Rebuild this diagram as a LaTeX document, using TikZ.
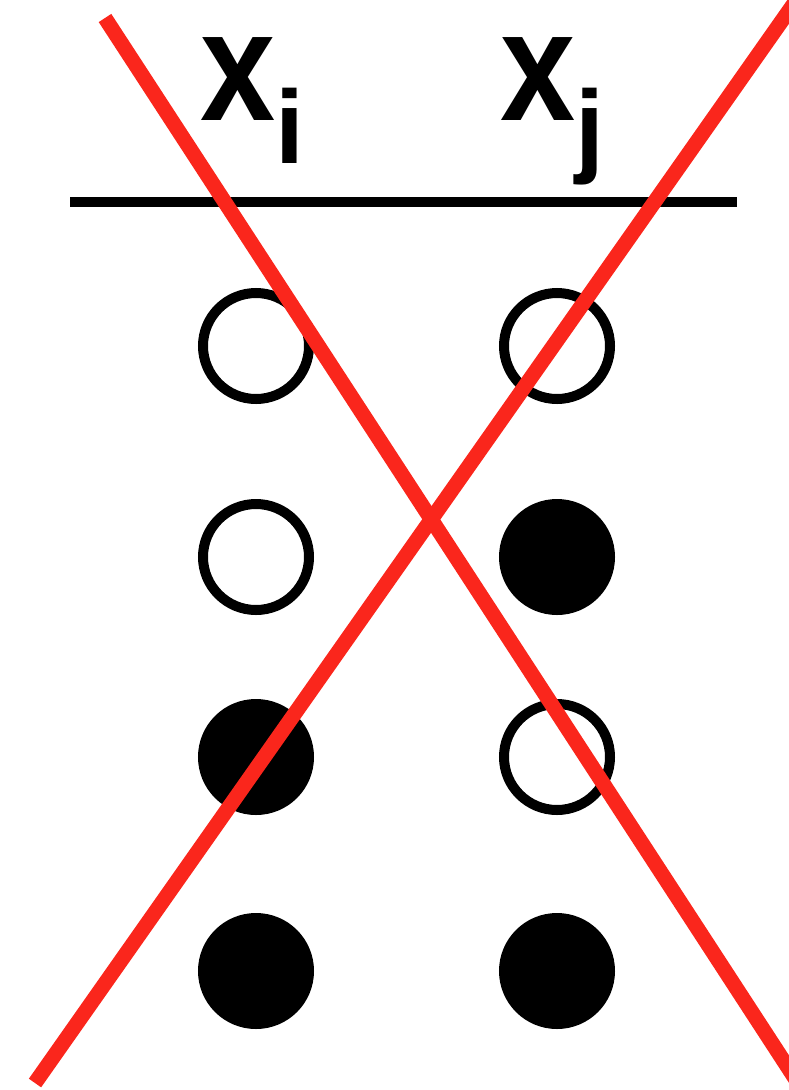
\documentclass[tikz,border=0pt]{standalone}
\usepackage{fontspec}
\setmainfont{Liberation Sans}
\definecolor{crossred}{RGB}{250,38,28}
\tikzset{
  bit/.style={draw=black,circle,line width=10pt,minimum size=106pt,inner sep=0pt},
  zero/.style={bit,fill=white},
  one/.style={bit,fill=black},
  varlabel/.style={anchor=base west,inner sep=0pt,text height=84pt,text depth=62pt,
    font=\fontsize{157}{157}\selectfont\bfseries},
  headrule/.style={draw,line width=10pt},
  strike/.style={draw=crossred,line width=15pt}
}
\newcommand{\subvar}[1]{\raisebox{-43pt}{\fontsize{104}{104}\selectfont #1}}

\begin{document}
\begin{tikzpicture}[x=1pt,y=-1pt]
  \useasboundingbox (0,0) rectangle (789,1090);
  \clip (0,0) rectangle (789,1090);

  % column heads
  \node[varlabel] (xi) at (200,120) {\scalebox{0.86}[1]{x}\smash{\subvar{i}}};
  \node[varlabel] (xj) at (500,120) {\scalebox{0.86}[1]{x}\smash{\subvar{j}}};
  \coordinate (ruleL) at (70,202);
  \coordinate (ruleR) at (737,202);
  \draw[headrule] (ruleL) -- (ruleR);

  % value pairs
  \node[zero] (i1) at (256,346) {};
  \node[zero] (j1) at (557,346) {};
  \node[zero] (i2) at (256,557) {};
  \node[one]  (j2) at (557,557) {};
  \node[one]  (i3) at (256,757) {};
  \node[zero] (j3) at (557,757) {};
  \node[one]  (i4) at (256,971) {};
  \node[one]  (j4) at (557,971) {};

  % crossed out
  \coordinate (crossTL) at (105,18);
  \coordinate (crossBR) at (800,1086);
  \coordinate (crossBL) at (35,1083);
  \coordinate (crossTR) at (800,-5);
  \draw[strike] (crossTL) -- (crossBR);
  \draw[strike] (crossBL) -- (crossTR);
\end{tikzpicture}
\end{document}
